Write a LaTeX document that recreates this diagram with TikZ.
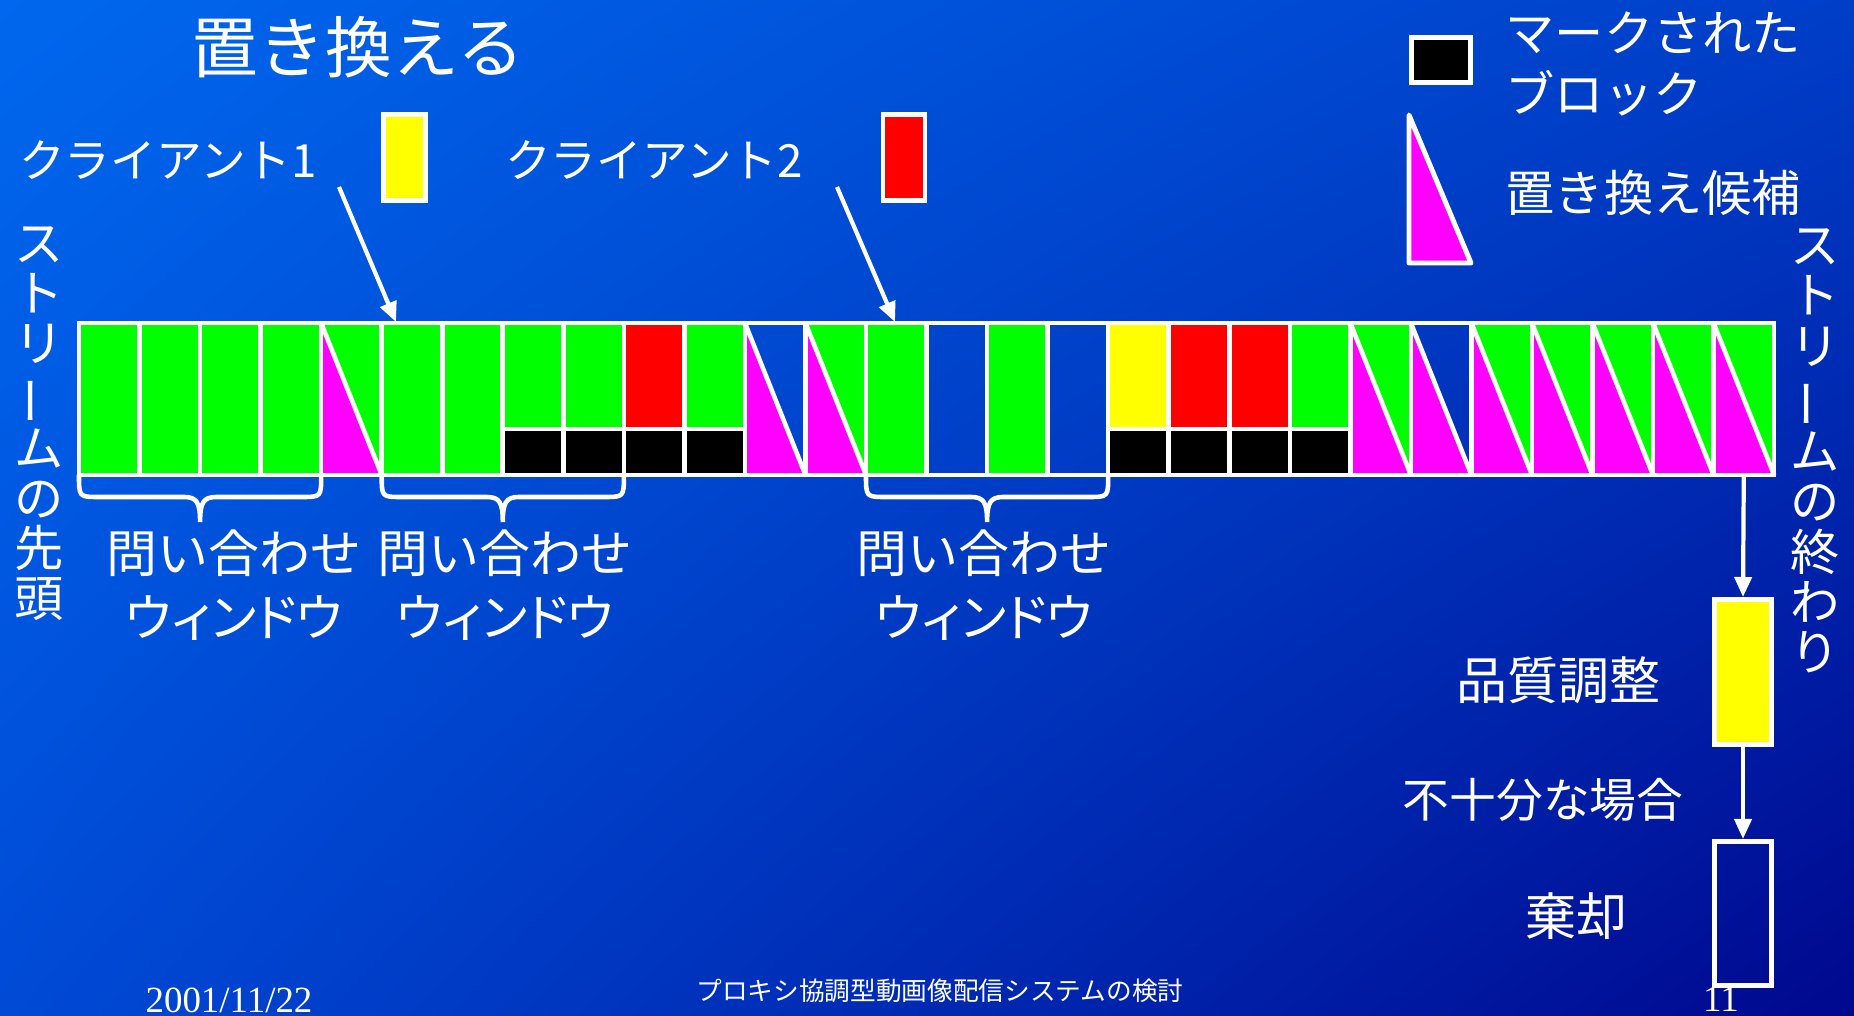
\documentclass[tikz,border=0pt]{standalone}
\usepackage{fontspec}
\usepackage{graphicx}
\setmainfont{Noto Sans CJK JP}
\newfontfamily\jpprop[RawFeature=+palt]{Noto Sans CJK JP}
\newfontfamily\dateserif{Liberation Serif}
\usetikzlibrary{arrows.meta,shadings}
\newcommand\myfs[2]{\fontsize{#1}{#2}\selectfont}
\newcommand\vbar{\rotatebox[origin=c]{90}{ー}}
\definecolor{bgUL}{RGB}{0,104,238}
\definecolor{bgUR}{RGB}{0,62,200}
\definecolor{bgLL}{RGB}{0,74,214}
\definecolor{bgLR}{RGB}{0,8,142}
\definecolor{blkgreen}{RGB}{0,255,0}
\definecolor{blkred}{RGB}{255,0,0}
\definecolor{blkyellow}{RGB}{255,255,0}
\definecolor{blkmag}{RGB}{255,0,255}
\begin{document}
\begin{tikzpicture}[x=0.01cm,y=-0.01cm,
  blk/.style={draw=white,line width=1.3pt},
  warrow/.style={draw=white,line width=1.2pt,-{Triangle[length=0.2cm,width=0.17cm]}},
  brace/.style={draw=white,line width=1.3pt,line cap=round},
  lbl/.style={text=white,inner sep=0pt,font=\myfs{14.5pt}{18.2pt},align=center},
  wbox/.style={draw=white,line width=1.4pt,inner sep=0pt},
]
\useasboundingbox (0,0) rectangle (1854,1016);
\shade[upper left=bgUL,upper right=bgUR,lower left=bgLL,lower right=bgLR] (0,0) rectangle (1854,1016);

% title
\node[lbl,font=\myfs{19pt}{19pt}] (title) at (358,47) {置き換える};

% clients
\node[lbl,font=\myfs{13pt}{13pt}] (c1) at (168,160) {クライアント1};
\node[lbl,font=\myfs{13pt}{13pt}] (c2) at (654,160) {クライアント2};
\node[wbox,fill=blkyellow,minimum width=0.42cm,minimum height=0.86cm] (c1box) at (404.5,157.5) {};
\node[wbox,fill=blkred,minimum width=0.42cm,minimum height=0.86cm] (c2box) at (904,157.5) {};
\coordinate (a1s) at (339,187);
\coordinate (a1e) at (396,322);
\coordinate (a2s) at (837,187);
\coordinate (a2e) at (895,322);
\draw[warrow] (a1s) -- (a1e);
\draw[warrow] (a2s) -- (a2e);

% legend
\node[wbox,fill=black,minimum width=0.59cm,minimum height=0.45cm] (legmark) at (1441,60) {};
\filldraw[draw=white,fill=blkmag,line width=1.4pt,line join=round] (1409,115) -- (1409,263) -- (1471,263) -- cycle;
\node[lbl,anchor=west,align=left,font=\myfs{14pt}{17.6pt}] (legmarktxt) at (1505,64) {マークされた\\ブロック};
\node[lbl,anchor=west,font=\myfs{14pt}{14pt}] (legtritxt) at (1505,193) {置き換え候補};

% stream blocks
\foreach \i in {0,1,2,3,5,6,13,15}
  \filldraw[blk,fill=blkgreen] ({79+\i*60.54},323) rectangle ++(60.54,152);
\foreach \i in {14,16}
  \draw[blk] ({79+\i*60.54},323) rectangle ++(60.54,152);
\foreach \i/\c in {7/blkgreen,8/blkgreen,10/blkgreen,20/blkgreen,9/blkred,18/blkred,19/blkred,17/blkyellow} {
  \filldraw[blk,fill=\c] ({79+\i*60.54},323) rectangle ++(60.54,106);
  \filldraw[blk,fill=black] ({79+\i*60.54},429) rectangle ++(60.54,46);
}
\foreach \i/\c in {4/blkgreen,12/blkgreen,21/blkgreen,23/blkgreen,24/blkgreen,25/blkgreen,26/blkgreen,27/blkgreen,11/none,22/none} {
  \path[fill=\c] ({79+\i*60.54},323) -- ({79+(\i+1)*60.54},323) -- ({79+(\i+1)*60.54},475) -- cycle;
  \fill[blkmag] ({79+\i*60.54},323) -- ({79+\i*60.54},475) -- ({79+(\i+1)*60.54},475) -- cycle;
  \draw[blk] ({79+\i*60.54},323) rectangle ++(60.54,152);
  \draw[blk] ({79+\i*60.54},323) -- ({79+(\i+1)*60.54},475);
}
\draw[blk] (79,323) rectangle (1774.1,475);

% braces
\foreach \a/\b in {79/321.2,381.7/623.9,866/1108.2} {
  \pgfmathsetmacro\m{(\a+\b)/2}
  \draw[brace] (\a,475) .. controls (\a,497) .. ({\a+20},497) -- ({\m-16},497)
     .. controls ({\m-3},497) and (\m,503) .. (\m,522) .. controls (\m,503) and ({\m+3},497) .. ({\m+16},497)
     -- ({\b-20},497) .. controls (\b,497) .. (\b,475);
}
\node[lbl] (q1) at (234,585) {問い合わせ\\{\jpprop ウィンドウ}};
\node[lbl] (q2) at (505,585) {問い合わせ\\{\jpprop ウィンドウ}};
\node[lbl] (q3) at (984,585) {問い合わせ\\{\jpprop ウィンドウ}};

% vertical texts
\node[lbl,anchor=north,font=\myfs{14pt}{14.2pt}] (head) at (39,226) {ス\\ト\\リ\\\vbar\\ム\\の\\先\\頭};
\node[lbl,anchor=north,font=\myfs{14pt}{14.3pt}] (tail) at (1815,228) {ス\\ト\\リ\\\vbar\\ム\\の\\終\\わ\\り};

% quality adjust / discard
\coordinate (rowend) at (1743.8,475);
\node[wbox,fill=blkyellow,minimum width=0.57cm,minimum height=1.45cm] (qbox) at (1743,672) {};
\node[wbox,minimum width=0.57cm,minimum height=1.44cm] (dbox) at (1743,913.5) {};
\draw[warrow] (rowend) -- (qbox.north);
\draw[warrow] (qbox.south) -- (dbox.north);
\node[lbl] (qual) at (1558,680) {品質調整};
\node[lbl,font=\myfs{13.3pt}{13.3pt}] (insuf) at (1543,800) {不十分な場合};
\node[lbl] (disc) at (1576,916) {棄却};

% footer
\node[text=white,inner sep=0pt,font=\dateserif\myfs{10.5pt}{10.5pt}] (date) at (229,1000) {2001/11/22};
\node[text=white,inner sep=0pt,font=\myfs{7.3pt}{7.3pt}] (foot) at (940,991) {プロキシ協調型動画像配信システムの検討};
\node[text=white,inner sep=0pt,font=\dateserif\myfs{10.5pt}{10.5pt}] (page) at (1721,999) {11};
\end{tikzpicture}
\end{document}
